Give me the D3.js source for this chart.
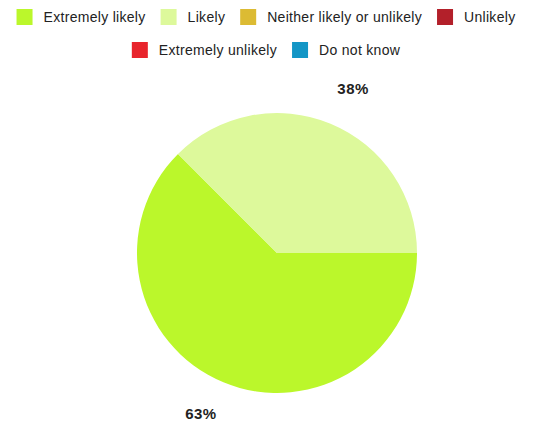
<!DOCTYPE html>
<html><head><meta charset="utf-8">
<script src="https://cdn.jsdelivr.net/npm/d3@7"></script>
<style>body{margin:0;background:#fff}svg{display:block}text{font-family:"Liberation Sans",Arial,sans-serif}</style>
</head><body>
<svg id="c" width="534" height="423"></svg>
<script>
const categories = ["Extremely likely","Likely","Neither likely or unlikely","Unlikely","Extremely unlikely","Do not know"];
const values = [5,3,0,0,0,0];
const colors = ["#bbf72b","#ddf99b","#dcbb33","#b3202a","#e8242c","#1396c6"];

const svg = d3.select("#c");
const cx = 277, cy = 253, R = 140;

// Legend
const lg = svg.append("g");
const items = categories.map((c,i)=>{
  const g = lg.append("g");
  g.append("rect").attr("width",16).attr("height",16).attr("fill",colors[i]);
  const t = g.append("text").attr("x",27).attr("y",13).attr("font-size",14)
    .attr("letter-spacing","0.3px").attr("fill","#222").text(c);
  return {g, w: 27 + t.node().getComputedTextLength()};
});
const gap = 15, maxW = 520, rowY = [9, 42];
let rows = [[]];
items.forEach(it=>{
  const r = rows[rows.length-1];
  const w = r.reduce((s,x)=>s+x.w+gap,0) + it.w;
  if (r.length && w > maxW) rows.push([it]); else r.push(it);
});
rows.forEach((r,ri)=>{
  const tot = r.reduce((s,x)=>s+x.w,0) + gap*(r.length-1);
  let x = 266 - tot/2;
  r.forEach(it=>{ it.g.attr("transform",`translate(${x},${rowY[ri]})`); x += it.w + gap; });
});

// Pie
const total = d3.sum(values);
const pie = d3.pie().sort(null).startAngle(Math.PI/2).endAngle(Math.PI/2 + 2*Math.PI);
const arcs = pie(values);
const arc = d3.arc().innerRadius(0).outerRadius(R);
const g = svg.append("g").attr("transform",`translate(${cx},${cy})`);
g.selectAll("path").data(arcs.filter(d=>d.value>0)).join("path")
  .attr("d",arc).attr("fill",d=>colors[d.index]);
const labelArc = d3.arc().innerRadius(176).outerRadius(176);
g.selectAll("text.lbl").data(arcs.filter(d=>d.value>0)).join("text")
  .attr("class","lbl")
  .attr("transform",d=>{ const [x,y] = labelArc.centroid(d); return `translate(${x*1.13},${y-2})`; })
  .attr("text-anchor","middle").attr("dy","0.35em")
  .attr("font-size",15).attr("font-weight","bold").attr("letter-spacing","0.5px").attr("fill","#222")
  .text(d=>Math.round(d.value/total*100)+"%");
</script>
</body></html>
